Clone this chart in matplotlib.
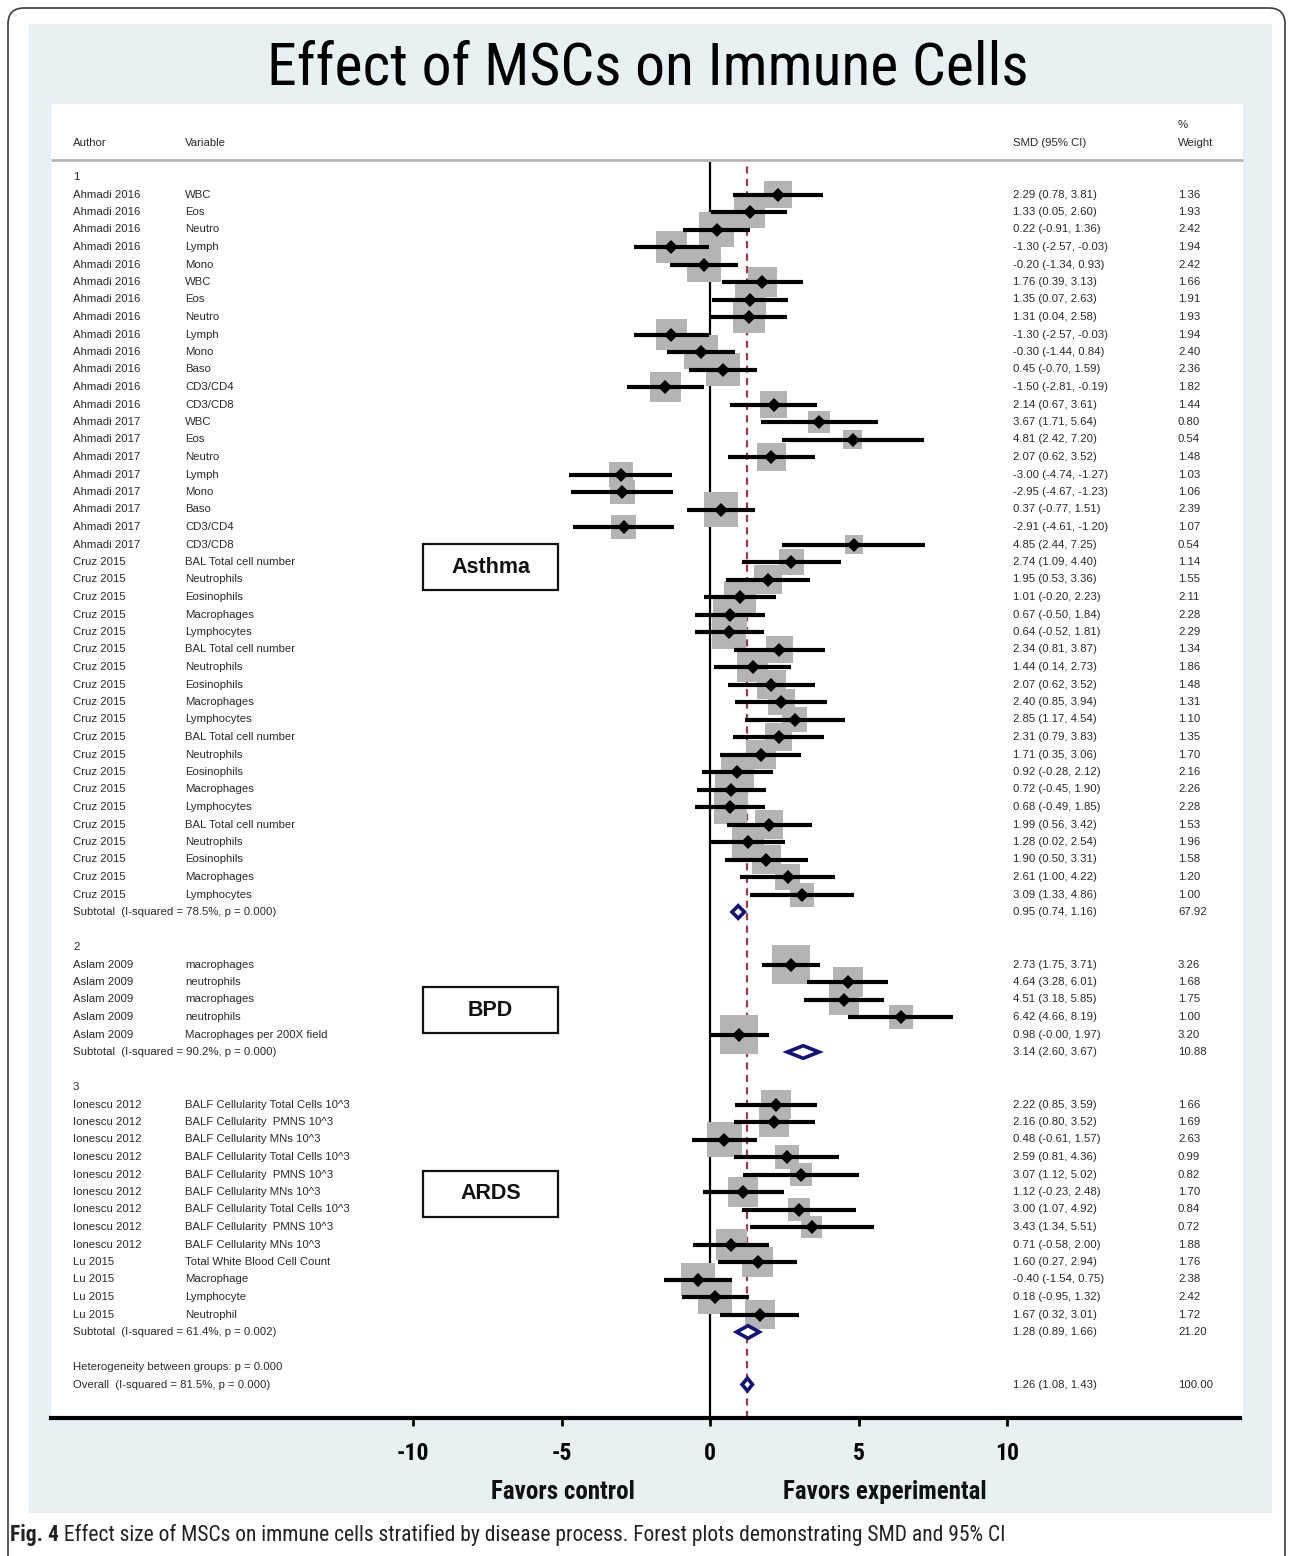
"""Forest plot: effect of MSCs on immune cells, stratified by disease."""

import matplotlib
matplotlib.use("Agg")
import matplotlib.pyplot as plt
from matplotlib.patches import Rectangle, Polygon, FancyBboxPatch
from matplotlib.transforms import blended_transform_factory

# =============================================================================
# DATA
# =============================================================================
AUTHORS = (["Ahmadi 2016"] * 13 + ["Ahmadi 2017"] * 8 + ["Cruz 2015"] * 20
           + ["Aslam 2009"] * 5 + ["Ionescu 2012"] * 9 + ["Lu 2015"] * 4)

VARIABLES = [
    "WBC", "Eos", "Neutro", "Lymph", "Mono", "WBC", "Eos", "Neutro", "Lymph",
    "Mono", "Baso", "CD3/CD4", "CD3/CD8",
    "WBC", "Eos", "Neutro", "Lymph", "Mono", "Baso", "CD3/CD4", "CD3/CD8",
    "BAL Total cell number", "Neutrophils", "Eosinophils", "Macrophages", "Lymphocytes",
    "BAL Total cell number", "Neutrophils", "Eosinophils", "Macrophages", "Lymphocytes",
    "BAL Total cell number", "Neutrophils", "Eosinophils", "Macrophages", "Lymphocytes",
    "BAL Total cell number", "Neutrophils", "Eosinophils", "Macrophages", "Lymphocytes",
    "macrophages", "neutrophils", "macrophages", "neutrophils",
    "Macrophages per 200X field",
    "BALF Cellularity Total Cells 10^3", "BALF Cellularity  PMNS 10^3",
    "BALF Cellularity MNs 10^3",
    "BALF Cellularity Total Cells 10^3", "BALF Cellularity  PMNS 10^3",
    "BALF Cellularity MNs 10^3",
    "BALF Cellularity Total Cells 10^3", "BALF Cellularity  PMNS 10^3",
    "BALF Cellularity MNs 10^3",
    "Total White Blood Cell Count", "Macrophage", "Lymphocyte", "Neutrophil",
]

SMD = [
    2.29, 1.33, 0.22, -1.30, -0.20, 1.76, 1.35, 1.31, -1.30, -0.30, 0.45, -1.50, 2.14,
    3.67, 4.81, 2.07, -3.00, -2.95, 0.37, -2.91, 4.85,
    2.74, 1.95, 1.01, 0.67, 0.64, 2.34, 1.44, 2.07, 2.40, 2.85,
    2.31, 1.71, 0.92, 0.72, 0.68, 1.99, 1.28, 1.90, 2.61, 3.09,
    2.73, 4.64, 4.51, 6.42, 0.98,
    2.22, 2.16, 0.48, 2.59, 3.07, 1.12, 3.00, 3.43, 0.71,
    1.60, -0.40, 0.18, 1.67,
]
CI_LO = [
    0.78, 0.05, -0.91, -2.57, -1.34, 0.39, 0.07, 0.04, -2.57, -1.44, -0.70, -2.81, 0.67,
    1.71, 2.42, 0.62, -4.74, -4.67, -0.77, -4.61, 2.44,
    1.09, 0.53, -0.20, -0.50, -0.52, 0.81, 0.14, 0.62, 0.85, 1.17,
    0.79, 0.35, -0.28, -0.45, -0.49, 0.56, 0.02, 0.50, 1.00, 1.33,
    1.75, 3.28, 3.18, 4.66, -0.0,
    0.85, 0.80, -0.61, 0.81, 1.12, -0.23, 1.07, 1.34, -0.58,
    0.27, -1.54, -0.95, 0.32,
]
CI_HI = [
    3.81, 2.60, 1.36, -0.03, 0.93, 3.13, 2.63, 2.58, -0.03, 0.84, 1.59, -0.19, 3.61,
    5.64, 7.20, 3.52, -1.27, -1.23, 1.51, -1.20, 7.25,
    4.40, 3.36, 2.23, 1.84, 1.81, 3.87, 2.73, 3.52, 3.94, 4.54,
    3.83, 3.06, 2.12, 1.90, 1.85, 3.42, 2.54, 3.31, 4.22, 4.86,
    3.71, 6.01, 5.85, 8.19, 1.97,
    3.59, 3.52, 1.57, 4.36, 5.02, 2.48, 4.92, 5.51, 2.00,
    2.94, 0.75, 1.32, 3.01,
]
WEIGHT = [
    1.36, 1.93, 2.42, 1.94, 2.42, 1.66, 1.91, 1.93, 1.94, 2.40, 2.36, 1.82, 1.44,
    0.80, 0.54, 1.48, 1.03, 1.06, 2.39, 1.07, 0.54,
    1.14, 1.55, 2.11, 2.28, 2.29, 1.34, 1.86, 1.48, 1.31, 1.10,
    1.35, 1.70, 2.16, 2.26, 2.28, 1.53, 1.96, 1.58, 1.20, 1.00,
    3.26, 1.68, 1.75, 1.00, 3.20,
    1.66, 1.69, 2.63, 0.99, 0.82, 1.70, 0.84, 0.72, 1.88,
    1.76, 2.38, 2.42, 1.72,
]
GROUP = [0] * 41 + [1] * 5 + [2] * 13

GROUP_IDS = ["1", "2", "3"]
DISEASES = ["Asthma", "BPD", "ARDS"]
SUB_TEXT = [
    "Subtotal  (I-squared = 78.5%, p = 0.000)",
    "Subtotal  (I-squared = 90.2%, p = 0.000)",
    "Subtotal  (I-squared = 61.4%, p = 0.002)",
]
SUB_SMD = [0.95, 3.14, 1.28]
SUB_LO = [0.74, 2.60, 0.89]
SUB_HI = [1.16, 3.67, 1.66]
SUB_WEIGHT = [67.92, 10.88, 21.20]

HET_TEXT = "Heterogeneity between groups: p = 0.000"
OVERALL_TEXT = "Overall  (I-squared = 81.5%, p = 0.000)"
OVERALL_SMD, OVERALL_LO, OVERALL_HI, OVERALL_WEIGHT = 1.26, 1.08, 1.43, 100.00

XTICKS = [-10, -5, 0, 5, 10]

TITLE = "Effect of MSCs on Immune Cells"
CAPTION_BOLD = "Fig. 4"
CAPTION = (" Effect size of MSCs on immune cells stratified by disease process. "
           "Forest plots demonstrating SMD and 95% CI")

# =============================================================================
# STYLE / GEOMETRY (pixels)
# =============================================================================
W, H = 1292, 1556
X_ZERO, PX_PER_UNIT = 710, 29.7        # x = 0 position and scale of the SMD axis
ROW0, ROW_H = 177, 17.5                # first row centre and row pitch
AX_LEFT, AX_RIGHT, AX_TOP, AX_BOTTOM = 51, 1240, 162, 1418

C_TEXT = "#2a2a2a"
C_BOX = "#b4b4b4"
C_NAVY = "#13137a"
C_REF = "#9c3b4c"
C_PANEL = "#e8f0f3"
NARROW = ["Roboto Condensed", "Open Sans Condensed", "Liberation Sans Narrow",
          "Liberation Sans"]
BODY = ["Liberation Sans", "DejaVu Sans"]

COL_AUTHOR, COL_VAR, COL_SMD, COL_WT = 73, 185, 1013, 1178
FS_BODY = 8.2
DISEASE_ROW = [22.3, 47.6, 58.1]       # vertical centres of the disease tags (rows)


def fmt_ci(m, lo, hi):
    return f"{m:.2f} ({lo:.2f}, {hi:.2f})"


def row_to_px(r):
    return ROW0 + r * ROW_H


def main():
    fig = plt.figure(figsize=(W / 100, H / 100), dpi=100, facecolor="white")

    # ---- background canvas in pixel units --------------------------------
    bg = fig.add_axes([0, 0, 1, 1], zorder=0)
    bg.set_xlim(0, W)
    bg.set_ylim(H, 0)
    bg.axis("off")

    bg.add_patch(FancyBboxPatch((8, 8), 1277, 1620, boxstyle="round,pad=0,rounding_size=16",
                                facecolor="white", edgecolor="#3c3c3c", lw=1.2))
    bg.add_patch(Rectangle((29, 24), 1243, 1489, facecolor=C_PANEL, edgecolor="none"))
    bg.add_patch(Rectangle((51, 104), 1192, AX_BOTTOM - 104, facecolor="white",
                           edgecolor="none"))
    bg.plot([51, 1243], [160, 160], color="#b5b5b5", lw=2, solid_capstyle="butt")

    bg.text(648, 68, TITLE, ha="center", va="center", fontsize=43,
            family=NARROW, color="black")

    # column headers
    for x, y, s in [(COL_AUTHOR, 143, "Author"), (COL_VAR, 143, "Variable"),
                    (COL_SMD, 143, "SMD (95% CI)"), (COL_WT, 125, "%"),
                    (COL_WT, 143, "Weight")]:
        bg.text(x, y, s, ha="left", va="center", fontsize=FS_BODY, family=BODY,
                color=C_TEXT)

    # favors labels
    bg.text(563, 1492, "Favors control", ha="center", va="center", fontsize=18,
            fontweight="bold", family=NARROW, color="#111111")
    bg.text(885, 1492, "Favors experimental", ha="center", va="center", fontsize=18,
            fontweight="bold", family=NARROW, color="#111111")

    # disease tags
    for name, r in zip(DISEASES, DISEASE_ROW):
        yc = row_to_px(r)
        bg.add_patch(Rectangle((423, yc - 23), 135, 46, facecolor="white",
                               edgecolor="#111111", lw=1.6, zorder=3))
        bg.text(490.5, yc, name, ha="center", va="center", fontsize=15.5,
                fontweight="bold", family=BODY, color="#111111", zorder=4)

    # caption
    t = bg.text(10, 1535, CAPTION_BOLD, ha="left", va="center", fontsize=15.5,
                fontweight="bold", family=NARROW, color="#222222")
    fig.canvas.draw()
    bb = t.get_window_extent()
    bg.text(bb.x1, 1535, CAPTION, ha="left", va="center", fontsize=15.5,
            family=NARROW, color="#222222")

    # ---- forest axes --------------------------------------------------------
    ax = fig.add_axes([AX_LEFT / W, 1 - AX_BOTTOM / H, (AX_RIGHT - AX_LEFT) / W,
                       (AX_BOTTOM - AX_TOP) / H], zorder=2)
    ax.patch.set_alpha(0)
    ax.set_xlim((AX_LEFT - X_ZERO) / PX_PER_UNIT, (AX_RIGHT - X_ZERO) / PX_PER_UNIT)
    ax.set_ylim((AX_BOTTOM - ROW0) / ROW_H, (AX_TOP - ROW0) / ROW_H)
    for side in ("top", "left", "right"):
        ax.spines[side].set_visible(False)
    ax.spines["bottom"].set_linewidth(3)
    ax.set_yticks([])
    ax.set_xticks(XTICKS)
    ax.set_xticklabels([str(v) for v in XTICKS], fontsize=17, fontweight="bold",
                       family=NARROW)
    ax.tick_params(axis="x", direction="out", length=6, width=2, pad=11)

    txt = blended_transform_factory(bg.transData, ax.transData)

    def label(x, r, s):
        ax.text(x, r, s, transform=txt, ha="left", va="center", fontsize=FS_BODY,
                family=BODY, color=C_TEXT, clip_on=False)

    ax.axvline(0, color="black", lw=1.6, zorder=1)
    ax.axvline(OVERALL_SMD, color=C_REF, lw=1.6, dashes=(3.2, 2.4), zorder=1)

    box_w = lambda w: 24 * w ** 0.4 / PX_PER_UNIT
    box_h = lambda w: 24 * w ** 0.4 / ROW_H

    def summary_diamond(r, m, lo, hi):
        ax.add_patch(Polygon([(lo, r), (m, r - 0.36), (hi, r), (m, r + 0.36)],
                             closed=True, facecolor="white", edgecolor=C_NAVY,
                             lw=2.6, zorder=5))

    r = 0
    for g in range(len(GROUP_IDS)):
        label(COL_AUTHOR, r, GROUP_IDS[g])
        r += 1
        for i in [k for k, gg in enumerate(GROUP) if gg == g]:
            bw, bh = box_w(WEIGHT[i]), box_h(WEIGHT[i])
            ax.add_patch(Rectangle((SMD[i] - bw / 2, r - bh / 2), bw, bh,
                                   facecolor=C_BOX, edgecolor="none", zorder=2))
            ax.plot([CI_LO[i], CI_HI[i]], [r, r], color="black", lw=3.0,
                    solid_capstyle="butt", zorder=3)
            ax.plot(SMD[i], r, marker="D", ms=6.8, color="black", mew=0, zorder=4)
            label(COL_AUTHOR, r, AUTHORS[i])
            label(COL_VAR, r, VARIABLES[i])
            label(COL_SMD, r, fmt_ci(SMD[i], CI_LO[i], CI_HI[i]))
            label(COL_WT, r, f"{WEIGHT[i]:.2f}")
            r += 1
        summary_diamond(r, SUB_SMD[g], SUB_LO[g], SUB_HI[g])
        label(COL_AUTHOR, r, SUB_TEXT[g])
        label(COL_SMD, r, fmt_ci(SUB_SMD[g], SUB_LO[g], SUB_HI[g]))
        label(COL_WT, r, f"{SUB_WEIGHT[g]:.2f}")
        r += 2

    label(COL_AUTHOR, r, HET_TEXT)
    r += 1
    summary_diamond(r, OVERALL_SMD, OVERALL_LO, OVERALL_HI)
    label(COL_AUTHOR, r, OVERALL_TEXT)
    label(COL_SMD, r, fmt_ci(OVERALL_SMD, OVERALL_LO, OVERALL_HI))
    label(COL_WT, r, f"{OVERALL_WEIGHT:.2f}")

    fig.savefig("out.png", dpi=100, facecolor="white")
    plt.close(fig)


if __name__ == "__main__":
    main()
